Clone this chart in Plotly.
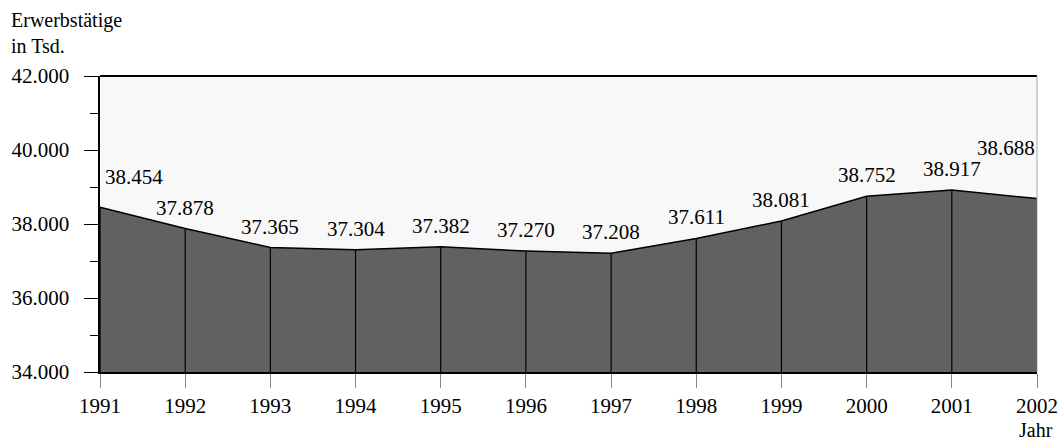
import plotly.graph_objects as go

years = [1991, 1992, 1993, 1994, 1995, 1996, 1997, 1998, 1999, 2000, 2001, 2002]
values = [38454, 37878, 37365, 37304, 37382, 37270, 37208, 37611, 38081, 38752, 38917, 38688]
labels = ["38.454", "37.878", "37.365", "37.304", "37.382", "37.270", "37.208",
          "37.611", "38.081", "38.752", "38.917", "38.688"]
y_ticks = [34000, 36000, 38000, 40000, 42000]
y_tick_text = ["34.000", "36.000", "38.000", "40.000", "42.000"]

# label offsets in pixels (style, not data)
label_xshift = [34, 0, 0, 0, 0, 0, 0, 0, 0, 0, 0, -31]
label_yshift = [16, 7, 7, 7, 7, 7, 7, 7, 7, 7, 7, 37]

FONT = "Liberation Serif"
y_min = 34000
PAD = "\u00a0\u00a0"

fig = go.Figure()

fig.add_trace(go.Scatter(
    x=years, y=values, mode="lines", fill="tozeroy",
    fillcolor="#616161", line=dict(color="black", width=1.5),
    hoverinfo="skip", showlegend=False,
))

vx, vy = [], []
for x, y in zip(years, values):
    vx += [x, x, None]
    vy += [y_min, y, None]
fig.add_trace(go.Scatter(
    x=vx, y=vy, mode="lines", line=dict(color="black", width=1.2),
    hoverinfo="skip", showlegend=False,
))

for x, y, t, dx, dy in zip(years, values, labels, label_xshift, label_yshift):
    fig.add_annotation(x=x, y=y, text=t, showarrow=False, xshift=dx, yshift=dy,
                       yanchor="bottom", font=dict(family=FONT, size=21, color="black"))

fig.add_annotation(xref="paper", yref="paper", x=0, xshift=-91, y=1.0, yshift=17,
                   text="Erwerbstätige<br>in Tsd.", showarrow=False, align="left",
                   xanchor="left", yanchor="bottom",
                   font=dict(family=FONT, size=20, color="black"))
fig.add_annotation(xref="paper", yref="paper", x=1.0, y=0, yshift=-71,
                   text="Jahr", showarrow=False, xanchor="right", yanchor="bottom",
                   xshift=18,
                   font=dict(family=FONT, size=20, color="black"))

fig.update_layout(
    width=1063, height=443,
    margin=dict(l=100, r=26, t=76, b=71),
    paper_bgcolor="white", plot_bgcolor="#f8f8f8",
    font=dict(family=FONT, size=21, color="black"),
    xaxis=dict(range=[years[0], years[-1]], tickmode="array", tickvals=years,
               ticktext=[str(y) for y in years], ticks="outside", ticklen=14,
               tickcolor="#888888", tickwidth=1, showgrid=False, zeroline=False,
               showline=True, linecolor="black", linewidth=2, mirror=False,
               automargin=False, tickfont=dict(family=FONT, size=21)),
    yaxis=dict(range=[34000, 42000], tickmode="array", tickvals=y_ticks,
               ticktext=[t + PAD for t in y_tick_text], ticks="outside", ticklen=14,
               tickcolor="black", automargin=False,
               tickwidth=1, showgrid=False, zeroline=False, showline=True,
               linecolor="black", linewidth=2,
               minor=dict(tickvals=[35000, 37000, 39000, 41000], ticks="outside",
                          ticklen=8, tickcolor="black", tickwidth=1),
               tickfont=dict(family=FONT, size=21)),
)

fig.add_shape(type="line", xref="paper", yref="paper", x0=0, x1=1, y0=1, y1=1,
              line=dict(color="black", width=2))
fig.add_shape(type="line", xref="paper", yref="paper", x0=1, x1=1, y0=0, y1=1,
              line=dict(color="#aaaaaa", width=1))

fig.write_html("out.html", config={"displayModeBar": False},
               post_script="document.body.style.margin='0';document.body.style.overflow='hidden';")
